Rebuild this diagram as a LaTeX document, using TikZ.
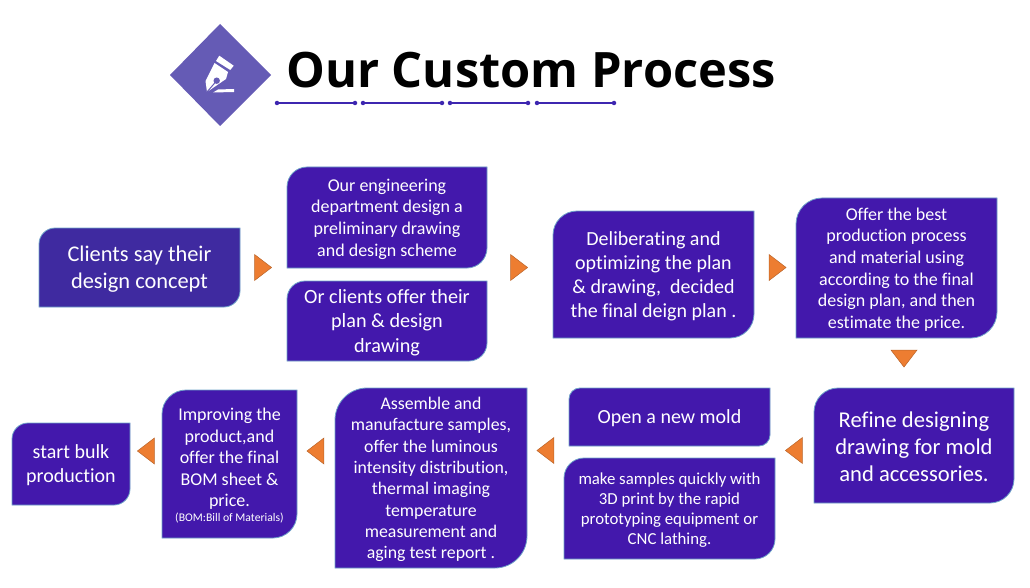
\documentclass[tikz,border=0pt]{standalone}
\usepackage{fontspec}
\setmainfont{Carlito}[Ligatures=NoCommon]
\newfontfamily\titlefont{Open Sans}
\usetikzlibrary{shapes.geometric}
\definecolor{boxblue}{HTML}{4318AC}
\definecolor{firstblue}{HTML}{3F2AA0}
\definecolor{boxedge}{HTML}{6FA3C8}
\definecolor{arroworange}{HTML}{ED7D31}
\definecolor{arrowedge}{HTML}{B9642A}
\definecolor{badgeblue}{HTML}{655BB5}
\definecolor{ruleblue}{HTML}{3D26B0}
\tikzset{
	proc_box/.style={fill=boxblue,draw=boxedge,line width=0.8pt},
	proc_text/.style={text=white,align=center,inner sep=0pt},
	tri_arrow/.style={isosceles triangle,isosceles triangle apex angle=70,isosceles triangle stretches,fill=arroworange,draw=arrowedge,line width=0.5pt,inner sep=0pt,minimum width=26pt,minimum height=17pt},
	rule_dot/.style={circle,fill=ruleblue,inner sep=0pt,minimum size=4.5pt}
}
% box with two rounded corners: name, x0, y0, x1, y1, radius, font size, text
\newcommand{\procbox}[8]{
	\draw[proc_box] (#2,#3+#6) .. controls (#2,#3+0.45*#6) and (#2+0.45*#6,#3) .. (#2+#6,#3) -- (#4,#3) -- (#4,#5-#6) .. controls (#4,#5-0.45*#6) and (#4-0.45*#6,#5) .. (#4-#6,#5) -- (#2,#5) -- cycle;
	\pgfmathsetmacro{\procskip}{#7*1.2}
	\node[proc_text,font=\fontsize{#7}{\procskip}\selectfont] (#1) at ({(#2+#4)/2},{(#3+#5)/2+1.5}) {#8};
}
\begin{document}
\begin{tikzpicture}[x=1pt,y=-1pt]
		\useasboundingbox (0,0) rectangle (1030,588);

		% heading
		\fill[badgeblue] (220,24) -- (271,75) -- (220,126) -- (170,75) -- cycle;
		\fill[white] (219.3,55.7) -- (233.7,65.7) -- (230.3,70) -- (216,61) -- cycle;
		\fill[white] (214.5,63) -- (228,72) -- (226,79) -- (207,92) -- (205.5,81) -- cycle;
		\fill[badgeblue] (216.7,80.7) circle (3.2);
		\draw[badgeblue,line width=1pt] (216.7,80.7) -- (207,92);
		\fill[white] (218,89.5) -- (234,89) -- (234,92) -- (213,92.5) -- cycle;
		\node[font=\titlefont\bfseries\fontsize{48.8}{56}\selectfont,inner sep=0pt] (title) at (531,70) {Our Custom Process};

		\foreach \a/\b [count=\i] in {277/355,363/442,450/528,537/614}{
			\node[rule_dot] (l\i) at (\a,103) {};
			\node[rule_dot] (r\i) at (\b,103) {};
			\draw[ruleblue,line width=1.2pt] (l\i) -- (r\i);
		}

		% top row
		\begin{scope}[proc_box/.append style={fill=firstblue}]
		\procbox{1}{39}{228}{240}{307}{16}{22.4}{Clients say their\\design concept}
		\end{scope}
		\procbox{2}{287}{167}{487}{268}{20}{18}{Our engineering\\department design a\\preliminary drawing\\and design scheme}
		\procbox{3}{287}{281}{487}{361}{18}{20.2}{Or clients offer their\\plan \& design\\drawing}
		\procbox{4}{553}{211}{754}{338}{24}{20}{Deliberating and\\optimizing the plan\\\& drawing,\ \ decided\\the final deign plan .}
		\procbox{5}{796}{198}{997}{338}{26}{18}{Offer the best\\production process\\and material using\\according to the final\\design plan, and then\\estimate the price.}

		% bottom row
		\procbox{6}{814}{388}{1014}{503}{24}{22.6}{Refine designing\\drawing for mold\\and accessories.}
		\procbox{7}{569}{388}{770}{446}{11}{20}{Open a new mold}
		\procbox{8}{564}{458}{775}{559}{20}{16.8}{make samples quickly with\\3D print by the rapid\\prototyping equipment or\\CNC lathing.}
		\procbox{9}{335}{388}{527}{568}{32}{17.8}{Assemble and\\manufacture samples,\\offer the luminous\\intensity distribution,\\thermal imaging\\temperature\\measurement and\\aging test report .}
		\procbox{10}{162}{390}{297}{538}{24}{18}{Improving the\\product,and\\offer the final\\BOM sheet \&\\price.\\[-7pt]{\fontsize{11.7}{13}\selectfont (BOM:Bill of Materials)}}
		\procbox{11}{12}{423}{130}{505}{16}{20}{start bulk\\production}

		% arrows
		\node[tri_arrow] (a1) at (261,267.5) {};
		\node[tri_arrow] (a2) at (517,267.5) {};
		\node[tri_arrow] (a3) at (775.5,267.5) {};
		\node[tri_arrow,shape border rotate=270] (a4) at (904,356.5) {};
		\node[tri_arrow,shape border rotate=180] (a5) at (796,450.5) {};
		\node[tri_arrow,shape border rotate=180] (a6) at (547.5,450.5) {};
		\node[tri_arrow,shape border rotate=180] (a7) at (317.5,451) {};
		\node[tri_arrow,shape border rotate=180] (a8) at (148,451) {};
\end{tikzpicture}
\end{document}
